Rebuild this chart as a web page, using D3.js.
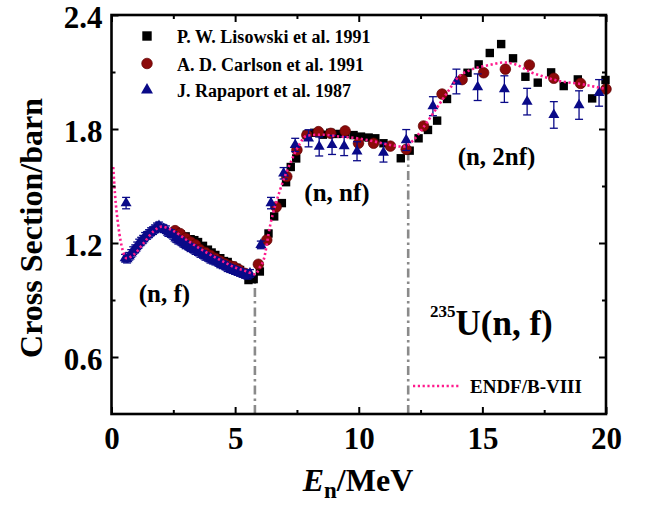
<!DOCTYPE html>
<html>
<head>
<meta charset="utf-8">
<script src="https://cdn.jsdelivr.net/npm/d3@7"></script>
<style>
  html, body { margin: 0; padding: 0; background: #fff; }
  svg { display: block; }
  text { font-family: "Liberation Serif", "Times New Roman", serif; font-weight: bold; fill: #000; }
</style>
</head>
<body>
<svg id="chart" width="649" height="508"></svg>
<script>
// ---------------- DATA ----------------
const xTicks = [0, 5, 10, 15, 20];
const xMinorTicks = [2.5, 7.5, 12.5, 17.5];
const yTicks = [0.6, 1.2, 1.8, 2.4];
const yMinorTicks = [0.9, 1.5, 2.1];

const seriesNames = ["P. W. Lisowski et al. 1991", "A. D. Carlson et al. 1991", "J. Rapaport et al. 1987", "ENDF/B-VIII"];

// Lisowski (squares)
const lisE = [2.6, 2.8, 3.0, 3.2, 3.35, 3.5, 3.7, 3.9, 4.05, 4.2, 4.4, 4.55, 4.7, 4.9, 5.05, 5.2, 5.35, 5.54, 5.75, 6.0,
  6.35, 6.58, 6.89, 7.06, 7.25, 7.47, 7.9, 8.2, 8.55, 8.85, 9.12, 9.45, 9.79, 10.09, 10.4, 10.67, 11.0, 11.7, 12.06, 12.42,
  12.8, 13.17, 13.57, 14.4, 14.85, 15.3, 15.76, 16.24, 16.74, 17.24, 17.78, 18.29, 18.86, 19.44, 19.98];
const lisV = [1.26, 1.245, 1.235, 1.22, 1.215, 1.205, 1.185, 1.165, 1.15, 1.137, 1.12, 1.105, 1.1, 1.08, 1.07, 1.058, 1.04, 1.005, 1.01, 1.05,
  1.25, 1.34, 1.41, 1.52, 1.6, 1.645, 1.77, 1.78, 1.77, 1.78, 1.774, 1.775, 1.768, 1.76, 1.755, 1.751, 1.725, 1.646, 1.686, 1.751,
  1.795, 1.844, 1.958, 2.096, 2.14, 2.2, 2.247, 2.172, 2.075, 2.044, 2.098, 2.026, 2.061, 1.961, 2.058];

// Carlson (circles)
const carE = [2.57, 2.77, 3.0, 3.2, 3.4, 3.58, 3.8, 4.0, 4.2, 4.4, 4.6, 4.8, 4.95, 5.15, 5.4, 5.94, 6.28, 6.66, 7.09, 7.5,
  7.9, 8.37, 8.87, 9.45, 9.99, 10.6, 11.28, 11.92, 12.62, 13.37, 14.18, 15.05, 15.93, 16.9, 17.89, 18.97, 20.0];
const carV = [1.265, 1.25, 1.225, 1.205, 1.19, 1.165, 1.15, 1.135, 1.12, 1.105, 1.09, 1.08, 1.075, 1.06, 1.04, 1.088, 1.216, 1.39, 1.55, 1.69,
  1.768, 1.786, 1.777, 1.79, 1.725, 1.725, 1.71, 1.693, 1.816, 1.984, 2.06, 2.096, 2.115, 2.137, 2.067, 2.04, 2.01];

// Rapaport (triangles, with errors)
const rapE = [0.59, 0.55, 0.63, 0.72, 0.8, 0.88, 0.96, 1.04, 1.12, 1.2, 1.28, 1.36, 1.44, 1.52, 1.6, 1.68, 1.76, 1.84, 1.92, 2.0,
  2.1, 2.2, 2.3, 2.4, 2.5, 2.6, 2.7, 2.8, 2.9, 3.0, 3.1, 3.2, 3.3, 3.4, 3.5, 3.6, 3.7, 3.8, 3.9, 4.0,
  4.1, 4.2, 4.3, 4.4, 4.5, 4.6, 4.7, 4.8, 4.9, 5.0, 5.1, 5.2, 5.3, 5.4, 5.5, 5.6,
  6.04, 6.45, 6.96, 7.43, 7.97, 8.4, 8.92, 9.41, 9.93, 11.0, 11.92, 13.0, 13.95, 14.81, 15.89, 16.81, 17.89, 18.91, 19.72];
const rapV = [1.41, 1.12, 1.115, 1.13, 1.145, 1.16, 1.17, 1.185, 1.2, 1.21, 1.22, 1.235, 1.24, 1.25, 1.26, 1.265, 1.275, 1.285, 1.29, 1.28,
  1.275, 1.27, 1.255, 1.25, 1.24, 1.225, 1.215, 1.21, 1.2, 1.19, 1.185, 1.175, 1.17, 1.16, 1.155, 1.145, 1.14, 1.13, 1.125, 1.115,
  1.11, 1.105, 1.1, 1.09, 1.085, 1.08, 1.07, 1.065, 1.06, 1.055, 1.05, 1.045, 1.04, 1.035, 1.03, 1.04,
  1.19, 1.41, 1.567, 1.716, 1.751, 1.708, 1.716, 1.71, 1.683, 1.676, 1.742, 1.92, 2.05, 2.02, 2.01, 1.944, 1.874, 1.926, 1.99];
const rapErr = [0.03, 0.02, 0.02, 0.02, 0.02, 0.02, 0.02, 0.02, 0.02, 0.02, 0.02, 0.02, 0.02, 0.02, 0.02, 0.02, 0.02, 0.02, 0.02, 0.02,
  0.02, 0.02, 0.02, 0.02, 0.02, 0.02, 0.02, 0.02, 0.02, 0.02, 0.02, 0.02, 0.02, 0.02, 0.02, 0.02, 0.02, 0.02, 0.02, 0.02,
  0.02, 0.02, 0.02, 0.02, 0.02, 0.02, 0.02, 0.02, 0.02, 0.02, 0.02, 0.02, 0.02, 0.02, 0.02, 0.02,
  0.02, 0.03, 0.03, 0.035, 0.045, 0.05, 0.05, 0.05, 0.05, 0.05, 0.055, 0.05, 0.065, 0.07, 0.07, 0.07, 0.07, 0.075, 0.07];

// ENDF/B-VIII evaluation (dotted line)
const endfE = [0.07, 0.14, 0.28, 0.45, 0.61, 0.88, 1.29, 1.69, 2.03, 2.44, 3.04, 3.58, 4.26, 4.93, 5.47, 5.81, 6.01, 6.15, 6.42, 6.82,
  7.23, 7.56, 7.9, 8.5, 9.25, 10.0, 10.6, 11.27, 11.8, 12.2, 12.62, 13.1, 13.57, 14.04, 14.5, 15.3, 15.86, 16.4, 16.94, 17.5,
  18.02, 18.97, 20.0];
const endfV = [1.6, 1.46, 1.286, 1.163, 1.12, 1.137, 1.198, 1.26, 1.286, 1.268, 1.216, 1.17, 1.12, 1.075, 1.05, 1.035, 1.075, 1.11, 1.295, 1.48,
  1.62, 1.71, 1.765, 1.77, 1.76, 1.75, 1.735, 1.716, 1.707, 1.74, 1.81, 1.9, 1.99, 2.075, 2.11, 2.137, 2.15, 2.137, 2.1, 2.075,
  2.055, 2.037, 2.01];

// Threshold markers (E in MeV, top value)
const threshE = [5.8, 12.0];
const threshTop = [1.01, 1.7];

const regionLabels = ["(n, f)", "(n, nf)", "(n, 2nf)"];
const regionE = [1.1, 7.8, 14.0];
const regionV = [0.89, 1.42, 1.61];

// ---------------- CHART ----------------
const svg = d3.select("#chart");
const L = 111.5, R = 606, T = 15, B = 414;
const x = d3.scaleLinear().domain([0, 20]).range([L, R]);
const y = d3.scaleLinear().domain([0.3, 2.4]).range([B, T]);

const COL_SQ = "#000000", COL_CI = "#8b0a0a", COL_TR = "#0a0a88", COL_ENDF = "#ff1a8c";

// threshold dash-dot lines
svg.append("g").selectAll("line").data(threshE).join("line")
  .attr("x1", d => x(d)).attr("x2", d => x(d))
  .attr("y1", y(0.3)).attr("y2", (d, i) => y(threshTop[i]))
  .attr("stroke", "#8a8a8a").attr("stroke-width", 2.6)
  .attr("stroke-dasharray", "9,4,2.5,4");

// Lisowski squares
const sq = 8.4;
svg.append("g").selectAll("rect").data(lisE).join("rect")
  .attr("x", d => x(d) - sq / 2).attr("y", (d, i) => y(lisV[i]) - sq / 2)
  .attr("width", sq).attr("height", sq).attr("fill", COL_SQ);

// Carlson circles
svg.append("g").selectAll("circle").data(carE).join("circle")
  .attr("cx", d => x(d)).attr("cy", (d, i) => y(carV[i])).attr("r", 5.3)
  .attr("fill", COL_CI).attr("stroke", "#5e0000").attr("stroke-width", 0.7);

// Rapaport error bars
const eb = svg.append("g").attr("stroke", COL_TR).attr("stroke-width", 1.3);
rapE.forEach((e, i) => {
  const cx = x(e), y1 = y(rapV[i] - rapErr[i]), y2 = y(rapV[i] + rapErr[i]);
  eb.append("line").attr("x1", cx).attr("x2", cx).attr("y1", y1).attr("y2", y2);
  eb.append("line").attr("x1", cx - 4).attr("x2", cx + 4).attr("y1", y1).attr("y2", y1);
  eb.append("line").attr("x1", cx - 4).attr("x2", cx + 4).attr("y1", y2).attr("y2", y2);
});
// Rapaport triangles
const tri = d3.symbol().type(d3.symbolTriangle).size(52);
svg.append("g").selectAll("path").data(rapE).join("path")
  .attr("d", tri)
  .attr("transform", (d, i) => `translate(${x(d)},${y(rapV[i])})`)
  .attr("fill", COL_TR);

// ENDF dotted line
const line = d3.line().x(d => x(d[0])).y(d => y(d[1])).curve(d3.curveMonotoneX);
svg.append("path").datum(endfE.map((e, i) => [e, endfV[i]]))
  .attr("d", line).attr("fill", "none")
  .attr("stroke", COL_ENDF).attr("stroke-width", 2.6)
  .attr("stroke-dasharray", "2.2,2.6");

// ---------- axes ----------
function styleAxis(g) {
  g.select(".domain").remove();
  g.selectAll(".tick line").attr("stroke", "#000").attr("stroke-width", 2);
  g.selectAll("text").style("font-family", "'Liberation Serif', serif").style("font-weight", "bold")
    .style("font-size", "31px").attr("fill", "#000");
}
svg.append("g").attr("transform", `translate(0,${B})`)
  .call(d3.axisBottom(x).tickValues(xTicks).tickSize(-7).tickPadding(13).tickFormat(d3.format("d")))
  .call(styleAxis);
svg.append("g").attr("transform", `translate(0,${B})`)
  .call(d3.axisBottom(x).tickValues(xMinorTicks).tickSize(-4).tickFormat(""))
  .call(styleAxis);
svg.append("g").attr("transform", `translate(0,${T})`)
  .call(d3.axisTop(x).tickValues(xTicks).tickSize(-7).tickFormat(""))
  .call(styleAxis);
svg.append("g").attr("transform", `translate(0,${T})`)
  .call(d3.axisTop(x).tickValues(xMinorTicks).tickSize(-4).tickFormat(""))
  .call(styleAxis);
svg.append("g").attr("transform", `translate(${L},0)`)
  .call(d3.axisLeft(y).tickValues(yTicks).tickSize(-7).tickPadding(9).tickFormat(d3.format(".1f")))
  .call(styleAxis)
  .call(g => g.selectAll("text").attr("dy", "0.4em"));
svg.append("g").attr("transform", `translate(${L},0)`)
  .call(d3.axisLeft(y).tickValues(yMinorTicks).tickSize(-4).tickFormat(""))
  .call(styleAxis);
svg.append("g").attr("transform", `translate(${R},0)`)
  .call(d3.axisRight(y).tickValues(yTicks).tickSize(-7).tickFormat(""))
  .call(styleAxis);
svg.append("g").attr("transform", `translate(${R},0)`)
  .call(d3.axisRight(y).tickValues(yMinorTicks).tickSize(-4).tickFormat(""))
  .call(styleAxis);

// frame
svg.append("rect").attr("x", L).attr("y", T).attr("width", R - L).attr("height", B - T)
  .attr("fill", "none").attr("stroke", "#000").attr("stroke-width", 2.6);

// axis titles
svg.append("text").attr("transform", `translate(42,228) rotate(-90)`)
  .attr("text-anchor", "middle").style("font-size", "32px").text("Cross Section/barn");
const xt = svg.append("text").attr("x", 358).attr("y", 491).attr("text-anchor", "middle").style("font-size", "32px");
xt.append("tspan").style("font-style", "italic").text("E");
xt.append("tspan").attr("dy", 7).style("font-size", "23px").text("n");
xt.append("tspan").attr("dy", -7).text("/MeV");

// region labels
svg.append("g").selectAll("text").data(regionLabels).join("text")
  .attr("x", (d, i) => x(regionE[i])).attr("y", (d, i) => y(regionV[i]))
  .style("font-size", "25px").text(d => d);

// reaction label
const rl = svg.append("text").attr("x", 430).attr("y", 335).style("font-size", "35px");
rl.append("tspan").attr("dy", -18).style("font-size", "17px").text("235");
rl.append("tspan").attr("dy", 18).text("U(n, f)");

// legend
const lg = svg.append("g");
const lx = 147, ltx = 177;
const rowY = [36, 63.5, 90];
lg.append("rect").attr("x", lx - 4.7).attr("y", rowY[0] - 4.7).attr("width", 9.4).attr("height", 9.4).attr("fill", COL_SQ);
lg.append("circle").attr("cx", lx).attr("cy", rowY[1]).attr("r", 5.3).attr("fill", COL_CI).attr("stroke", "#5e0000").attr("stroke-width", 0.7);
lg.append("path").attr("d", d3.symbol().type(d3.symbolTriangle).size(62)).attr("transform", `translate(${lx},${rowY[2]})`).attr("fill", COL_TR);
lg.selectAll("text.lt").data(seriesNames.slice(0, 3)).join("text").attr("class", "lt")
  .attr("x", ltx).attr("y", (d, i) => rowY[i] + 7).style("font-size", "18px").text(d => d);
lg.append("line").attr("x1", 413).attr("x2", 461).attr("y1", 386).attr("y2", 386)
  .attr("stroke", COL_ENDF).attr("stroke-width", 2.6).attr("stroke-dasharray", "2.2,2.6");
lg.append("text").attr("x", 470).attr("y", 393).style("font-size", "19px").text(seriesNames[3]);
</script>
</body>
</html>
